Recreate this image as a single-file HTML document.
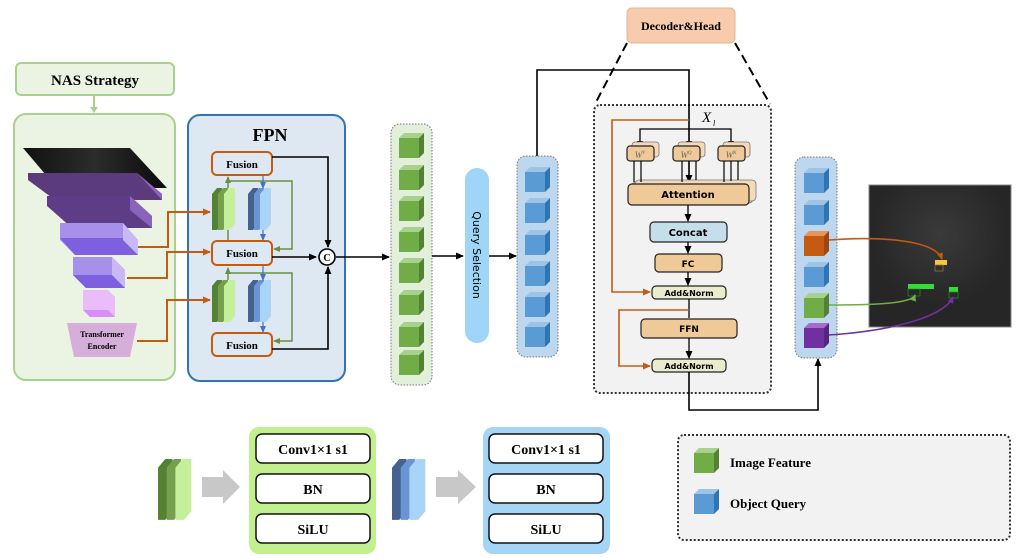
<!DOCTYPE html>
<html><head><meta charset="utf-8"><style>
html,body{margin:0;padding:0;background:#fff}
svg{display:block}
text{font-family:"Liberation Serif",serif;font-weight:bold}
.s{font-family:"DejaVu Sans","Liberation Sans",sans-serif;font-weight:bold}
</style></head><body>
<svg width="1026" height="558" viewBox="0 0 1026 558" xmlns="http://www.w3.org/2000/svg">
<defs>
<marker id="ab" markerWidth="8" markerHeight="8" refX="7" refY="4" orient="auto" markerUnits="userSpaceOnUse"><path d="M0,0.5 L8,4 L0,7.5 Z" fill="#000"/></marker>
<marker id="ao" markerWidth="8" markerHeight="8" refX="7" refY="4" orient="auto" markerUnits="userSpaceOnUse"><path d="M0,0.5 L8,4 L0,7.5 Z" fill="#c55a11"/></marker>
<marker id="ag" markerWidth="7" markerHeight="7" refX="6" refY="3.5" orient="auto" markerUnits="userSpaceOnUse"><path d="M0,0.5 L7,3.5 L0,6.5 Z" fill="#6a8f3f"/></marker>
<marker id="abl" markerWidth="7" markerHeight="7" refX="6" refY="3.5" orient="auto" markerUnits="userSpaceOnUse"><path d="M0,0.5 L7,3.5 L0,6.5 Z" fill="#4472c4"/></marker>
<marker id="agr" markerWidth="7" markerHeight="7" refX="6" refY="3.5" orient="auto" markerUnits="userSpaceOnUse"><path d="M0,0.5 L7,3.5 L0,6.5 Z" fill="#70ad47"/></marker>
<marker id="apu" markerWidth="7" markerHeight="7" refX="6" refY="3.5" orient="auto" markerUnits="userSpaceOnUse"><path d="M0,0.5 L7,3.5 L0,6.5 Z" fill="#7030a0"/></marker>
<marker id="aor" markerWidth="7" markerHeight="7" refX="6" refY="3.5" orient="auto" markerUnits="userSpaceOnUse"><path d="M0,0.5 L7,3.5 L0,6.5 Z" fill="#c55a11"/></marker>
<radialGradient id="rg" cx="0.5" cy="0.35" r="0.5"><stop offset="0" stop-color="#3a3a3a"/><stop offset="1" stop-color="#262626"/></radialGradient>
<linearGradient id="dg" x1="0" y1="0" x2="1" y2="0"><stop offset="0" stop-color="#111"/><stop offset="0.5" stop-color="#2c2c2c"/><stop offset="1" stop-color="#0a0a0a"/></linearGradient>
<g id="gc"><rect x="0" y="5" width="20" height="20" fill="#70ad47"/><path d="M0,5 L5,0 L25,0 L20,5Z" fill="#a9d18e"/><path d="M20,5 L25,0 L25,20 L20,25Z" fill="#548235"/></g>
<g id="bc"><rect x="0" y="5" width="20" height="20" fill="#5b9bd5"/><path d="M0,5 L5,0 L25,0 L20,5Z" fill="#9dc3e6"/><path d="M20,5 L25,0 L25,20 L20,25Z" fill="#2e75b6"/></g>
<g id="gs"><path d="M0,6 L5,0 L10,0 L10,36 L5,42 L0,42Z" fill="#548235"/><path d="M6,6 L11,0 L16,0 L16,36 L11,42 L6,42Z" fill="#76a04e"/><path d="M12,6 L17,0 L23,0 L23,36 L18,42 L12,42Z" fill="#c5f09a"/></g>
<g id="bs"><path d="M0,6 L5,0 L10,0 L10,36 L5,42 L0,42Z" fill="#44618f"/><path d="M6,6 L11,0 L16,0 L16,36 L11,42 L6,42Z" fill="#6a94d4"/><path d="M12,6 L17,0 L23,0 L23,36 L18,42 L12,42Z" fill="#a8d4f8"/></g>
</defs>

<rect x="16" y="63" width="158" height="32" rx="5" fill="#ebf3e3" stroke="#a9d18e" stroke-width="2"/>
<text x="95" y="85" font-size="15" text-anchor="middle">NAS Strategy</text>
<line x1="94" y1="95" x2="94" y2="111" stroke="#a9d18e" stroke-width="2"/>
<path d="M90,107 L94,113 L98,107Z" fill="#a9d18e"/>
<rect x="14" y="114" width="161" height="266" rx="12" fill="#ebf3e3" stroke="#a9d18e" stroke-width="2"/>

<path d="M23,148 L130,148 L167,188 L57,188Z" fill="url(#dg)"/>
<path d="M28,173 L137,173 L162,194 L162,200 L55,200 L28,180Z" fill="#5b3a7e"/>
<path d="M137,173 L162,194 L162,200Z" fill="#8a64b8"/>
<path d="M47,196 L130,196 L152,216 L152,228 L72,228 L47,206Z" fill="#5e3d86"/>
<path d="M130,196 L152,216 L152,228 L130,210Z" fill="#8a64b8"/>
<path d="M60,223 L123,223 L138,240 L138,255 L75,255 L60,240Z" fill="#a591ea"/>
<path d="M60,238 L123,238 L138,255 L75,255Z" fill="#7d5fe0"/>
<path d="M123,223 L138,240 L138,255 L123,240Z" fill="#c8b8f6"/>
<path d="M73,257 L112,257 L125,270 L125,288 L86,288 L73,275Z" fill="#a591ea"/>
<path d="M73,275 L112,275 L125,288 L86,288Z" fill="#7d5fe0"/>
<path d="M112,257 L125,270 L125,288 L112,275Z" fill="#c8b8f6"/>
<path d="M83,290 L108,290 L115,297 L115,317 L90,317 L83,310Z" fill="#e9bdf9"/>
<path d="M83,310 L108,310 L115,317 L90,317Z" fill="#d88ef6"/>
<path d="M67,323 L137,323 L130,357 L74,357Z" fill="#d5aed9"/>
<text x="102" y="337" font-size="8" text-anchor="middle">Transformer</text>
<text x="102" y="349" font-size="8" text-anchor="middle">Encoder</text>

<rect x="188" y="115" width="157" height="266" rx="12" fill="#dde8f3" stroke="#2e75b6" stroke-width="2"/>
<text x="270" y="141" font-size="18" text-anchor="middle">FPN</text>
<g stroke="#c55a11" stroke-width="2" fill="#dde8f3">
<rect x="212" y="152" width="60" height="23" rx="5"/>
<rect x="212" y="241" width="60" height="24" rx="5"/>
<rect x="212" y="333" width="60" height="23" rx="5"/>
</g>
<text x="242" y="168" font-size="11" text-anchor="middle">Fusion</text>
<text x="242" y="257" font-size="11" text-anchor="middle">Fusion</text>
<text x="242" y="349" font-size="11" text-anchor="middle">Fusion</text>
<use href="#gs" x="212" y="188"/>
<use href="#bs" x="248" y="188"/>
<use href="#gs" x="212" y="280"/>
<use href="#bs" x="248" y="280"/>
<g stroke="#6a8f3f" stroke-width="1.5" fill="none">
<line x1="228" y1="188" x2="228" y2="177" marker-end="url(#ag)"/>
<line x1="228" y1="240" x2="228" y2="230"/>
<line x1="228" y1="280" x2="228" y2="268" marker-end="url(#ag)"/>
<polyline points="228,181 292,181 292,249 274,249" marker-end="url(#ag)"/>
<polyline points="228,273 292,273 292,341 274,341" marker-end="url(#ag)"/>
</g>
<g stroke="#4472c4" stroke-width="1.2" fill="none">
<line x1="263" y1="176" x2="263" y2="188" marker-end="url(#abl)"/>
<line x1="263" y1="230" x2="263" y2="240" marker-end="url(#abl)"/>
<line x1="263" y1="266" x2="263" y2="280" marker-end="url(#abl)"/>
<line x1="263" y1="322" x2="263" y2="332" marker-end="url(#abl)"/>
</g>
<g stroke="#c55a11" stroke-width="2" fill="none">
<polyline points="138,247 168,247 168,212 210,212" marker-end="url(#ao)"/>
<polyline points="127,278 167,278 167,252 210,252" marker-end="url(#ao)"/>
<polyline points="137,341 167,341 167,300 210,300" marker-end="url(#ao)"/>
</g>
<g stroke="#000" stroke-width="1.6" fill="none">
<polyline points="272,157 328,157 328,247" marker-end="url(#ab)"/>
<polyline points="272,349 328,349 328,267" marker-end="url(#ab)"/>
<line x1="272" y1="257" x2="316" y2="257" marker-end="url(#ab)"/>
<line x1="336" y1="257" x2="389" y2="257" marker-end="url(#ab)"/>
</g>
<circle cx="327" cy="257" r="8" fill="#fff" stroke="#000" stroke-width="1.6"/>
<text x="327" y="261" font-size="10" text-anchor="middle">C</text>

<rect x="391" y="124" width="41" height="261" rx="9" fill="#e2efda" stroke="#777" stroke-width="1" stroke-dasharray="1.5,1.5"/>
<use href="#gc" x="399" y="133"/><use href="#gc" x="399" y="165"/><use href="#gc" x="399" y="196"/><use href="#gc" x="399" y="227"/>
<use href="#gc" x="399" y="258"/><use href="#gc" x="399" y="290"/><use href="#gc" x="399" y="322"/><use href="#gc" x="399" y="350"/>
<line x1="432" y1="256" x2="463" y2="256" stroke="#000" stroke-width="1.6" marker-end="url(#ab)"/>
<rect x="465" y="168" width="24" height="175" rx="12" fill="#9fd5f7"/>
<text class="s" x="0" y="0" font-size="11" style="font-weight:normal" transform="translate(473,255) rotate(90)" text-anchor="middle">Query Selection</text>
<line x1="489" y1="256" x2="516" y2="256" stroke="#000" stroke-width="1.6" marker-end="url(#ab)"/>
<rect x="517" y="156" width="41" height="201" rx="9" fill="#bdd7ee" stroke="#777" stroke-width="1" stroke-dasharray="1.5,1.5"/>
<use href="#bc" x="525" y="167"/><use href="#bc" x="525" y="198"/><use href="#bc" x="525" y="230"/>
<use href="#bc" x="525" y="261"/><use href="#bc" x="525" y="292"/><use href="#bc" x="525" y="322"/>

<rect x="627" y="8" width="108" height="35" rx="5" fill="#f8cbad" stroke="#e0b890"/>
<text x="681" y="30" font-size="12" text-anchor="middle">Decoder&amp;Head</text>
<line x1="627" y1="43" x2="595" y2="104" stroke="#000" stroke-width="2" stroke-dasharray="9,5"/>
<line x1="735" y1="43" x2="770" y2="104" stroke="#000" stroke-width="2" stroke-dasharray="9,5"/>
<rect x="594" y="105" width="177" height="288" rx="6" fill="#f2f2f2" stroke="#333" stroke-width="2" stroke-dasharray="2,2"/>
<polyline points="537,156 537,70 689,70 689,182" stroke="#000" stroke-width="1.6" fill="none" marker-end="url(#ab)"/>
<text x="702" y="122" font-size="15" font-style="italic" style="font-weight:normal">X</text>
<text x="713" y="126" font-size="8" font-style="italic" style="font-weight:normal">l</text>
<polyline points="640,144 640,129 731,129 731,144" stroke="#000" stroke-width="1.3" fill="none"/>
<path d="M637,141 L640,146 L643,141Z M686,141 L689,146 L692,141Z M728,141 L731,146 L734,141Z"/>
<g fill="#f4d9bb" stroke="#777" stroke-width="0.8">
<rect x="632" y="142" width="27" height="15" rx="3"/><rect x="678" y="142" width="27" height="15" rx="3"/><rect x="723" y="142" width="27" height="15" rx="3"/>
<rect x="632" y="182" width="121" height="21" rx="4"/><rect x="635" y="180" width="121" height="21" rx="4"/>
</g>
<g fill="#f0c999" stroke="#222" stroke-width="1.2">
<rect x="627" y="146" width="27" height="15" rx="3"/><rect x="673" y="146" width="27" height="15" rx="3"/><rect x="718" y="146" width="27" height="15" rx="3"/>
</g>
<text x="640" y="158" font-size="9" fill="#666" font-style="italic" style="font-weight:normal" text-anchor="middle">W<tspan font-size="5" dy="-4">V</tspan></text>
<text x="686" y="158" font-size="9" fill="#666" font-style="italic" style="font-weight:normal" text-anchor="middle">W<tspan font-size="5" dy="-4">Q</tspan></text>
<text x="731" y="158" font-size="9" fill="#666" font-style="italic" style="font-weight:normal" text-anchor="middle">W<tspan font-size="5" dy="-4">K</tspan></text>
<g stroke="#000" stroke-width="1.2">
<line x1="634" y1="161" x2="634" y2="182"/><line x1="641" y1="161" x2="641" y2="182"/>
<line x1="682" y1="161" x2="682" y2="182"/><line x1="696" y1="161" x2="696" y2="180"/>
<line x1="724" y1="161" x2="724" y2="182"/><line x1="731" y1="161" x2="731" y2="181"/><line x1="738" y1="161" x2="738" y2="180"/>
</g>
<rect x="628" y="184" width="121" height="21" rx="4" fill="#f0c999" stroke="#222" stroke-width="1.2"/>
<text class="s" x="688" y="198" font-size="10" text-anchor="middle">Attention</text>
<rect x="650" y="222" width="77" height="20" rx="4" fill="#c5dfea" stroke="#222" stroke-width="1.2"/>
<text class="s" x="688" y="236" font-size="10" text-anchor="middle">Concat</text>
<rect x="655" y="254" width="67" height="18" rx="4" fill="#f0c999" stroke="#222" stroke-width="1.2"/>
<text class="s" x="688" y="267" font-size="9" text-anchor="middle">FC</text>
<rect x="652" y="286" width="74" height="13" rx="4" fill="#ebeccd" stroke="#222" stroke-width="1.2"/>
<text class="s" x="689" y="296" font-size="8" text-anchor="middle">Add&amp;Norm</text>
<rect x="641" y="319" width="96" height="19" rx="4" fill="#f0c999" stroke="#222" stroke-width="1.2"/>
<text class="s" x="689" y="332" font-size="9" text-anchor="middle">FFN</text>
<rect x="652" y="359" width="74" height="13" rx="4" fill="#ebeccd" stroke="#222" stroke-width="1.2"/>
<text class="s" x="689" y="369" font-size="8" text-anchor="middle">Add&amp;Norm</text>
<g stroke="#000" stroke-width="1.3" fill="none">
<line x1="688" y1="205" x2="688" y2="221" marker-end="url(#ab)"/>
<line x1="688" y1="242" x2="688" y2="253" marker-end="url(#ab)"/>
<line x1="688" y1="272" x2="688" y2="285" marker-end="url(#ab)"/>
<line x1="689" y1="299" x2="689" y2="318"/>
<line x1="689" y1="338" x2="689" y2="358" marker-end="url(#ab)"/>
<polyline points="689,372 689,410 818,410 818,359" stroke-width="1.6" marker-end="url(#ab)"/>
</g>
<g stroke="#c55a11" stroke-width="1.6" fill="none">
<polyline points="689,120 612,120 612,292 650,292" marker-end="url(#ao)"/>
<polyline points="689,310 619,310 619,366 650,366" marker-end="url(#ao)"/>
</g>

<rect x="795" y="157" width="42" height="201" rx="9" fill="#bdd7ee" stroke="#777" stroke-width="1" stroke-dasharray="1.5,1.5"/>
<use href="#bc" x="804" y="168"/><use href="#bc" x="804" y="200"/>
<g transform="translate(804,231)"><rect x="0" y="5" width="20" height="20" fill="#c55a11"/><path d="M0,5 L5,0 L25,0 L20,5Z" fill="#e8935a"/><path d="M20,5 L25,0 L25,20 L20,25Z" fill="#9c4810"/></g>
<use href="#bc" x="804" y="262"/><use href="#gc" x="804" y="293"/>
<g transform="translate(804,323)"><rect x="0" y="5" width="20" height="20" fill="#7030a0"/><path d="M0,5 L5,0 L25,0 L20,5Z" fill="#a46ccc"/><path d="M20,5 L25,0 L25,20 L20,25Z" fill="#552480"/></g>
<rect x="869" y="185" width="142" height="142" fill="url(#rg)" stroke="#888" stroke-width="1"/>
<rect x="935" y="260" width="12" height="5" fill="#f5c842"/><rect x="935" y="265" width="8" height="6" fill="none" stroke="#a08030" stroke-width="0.7"/>
<rect x="908" y="284" width="26" height="5" fill="#33dd33"/><rect x="908" y="289" width="12" height="7" fill="none" stroke="#2a8a2a" stroke-width="0.7"/>
<rect x="949" y="287" width="9" height="5" fill="#33dd33"/><rect x="949" y="292" width="9" height="6" fill="none" stroke="#2a8a2a" stroke-width="0.7"/>
<g fill="none" stroke-width="1.6">
<path d="M829,240 C880,236 935,240 942,259" stroke="#c55a11" marker-end="url(#aor)"/>
<path d="M829,305 C870,305 912,304 915,295" stroke="#70ad47" marker-end="url(#agr)"/>
<path d="M829,335 C900,330 945,315 953,297" stroke="#7030a0" marker-end="url(#apu)"/>
</g>

<rect x="678" y="435" width="332" height="105" rx="6" fill="#f2f2f2" stroke="#333" stroke-width="2" stroke-dasharray="2,2"/>
<use href="#gc" x="694" y="448"/>
<text x="730" y="467" font-size="13">Image Feature</text>
<use href="#bc" x="694" y="489"/>
<text x="730" y="508" font-size="13">Object Query</text>

<g transform="translate(158,459) scale(1.45)"><use href="#gs"/></g>
<path d="M202,477 L223,477 L223,470 L240,487 L223,504 L223,497 L202,497Z" fill="#c8c8c8"/>
<rect x="249" y="427" width="127" height="127" rx="10" fill="#c2f08e"/>
<g fill="#fff" stroke="#111" stroke-width="1.5">
<rect x="256" y="434" width="114" height="29" rx="6"/><rect x="256" y="474" width="114" height="29" rx="6"/><rect x="256" y="514" width="114" height="29" rx="6"/>
</g>
<text x="313" y="454" font-size="14" text-anchor="middle">Conv1×1 s1</text>
<text x="313" y="494" font-size="14" text-anchor="middle">BN</text>
<text x="313" y="534" font-size="14" text-anchor="middle">SiLU</text>
<g transform="translate(392,459) scale(1.45)"><use href="#bs"/></g>
<path d="M436,477 L458,477 L458,470 L476,487 L458,504 L458,497 L436,497Z" fill="#c8c8c8"/>
<rect x="483" y="427" width="127" height="127" rx="10" fill="#a5d5f5"/>
<g fill="#fff" stroke="#111" stroke-width="1.5">
<rect x="489" y="434" width="114" height="29" rx="6"/><rect x="489" y="474" width="114" height="29" rx="6"/><rect x="489" y="514" width="114" height="29" rx="6"/>
</g>
<text x="546" y="454" font-size="14" text-anchor="middle">Conv1×1 s1</text>
<text x="546" y="494" font-size="14" text-anchor="middle">BN</text>
<text x="546" y="534" font-size="14" text-anchor="middle">SiLU</text>
</svg>
</body></html>
